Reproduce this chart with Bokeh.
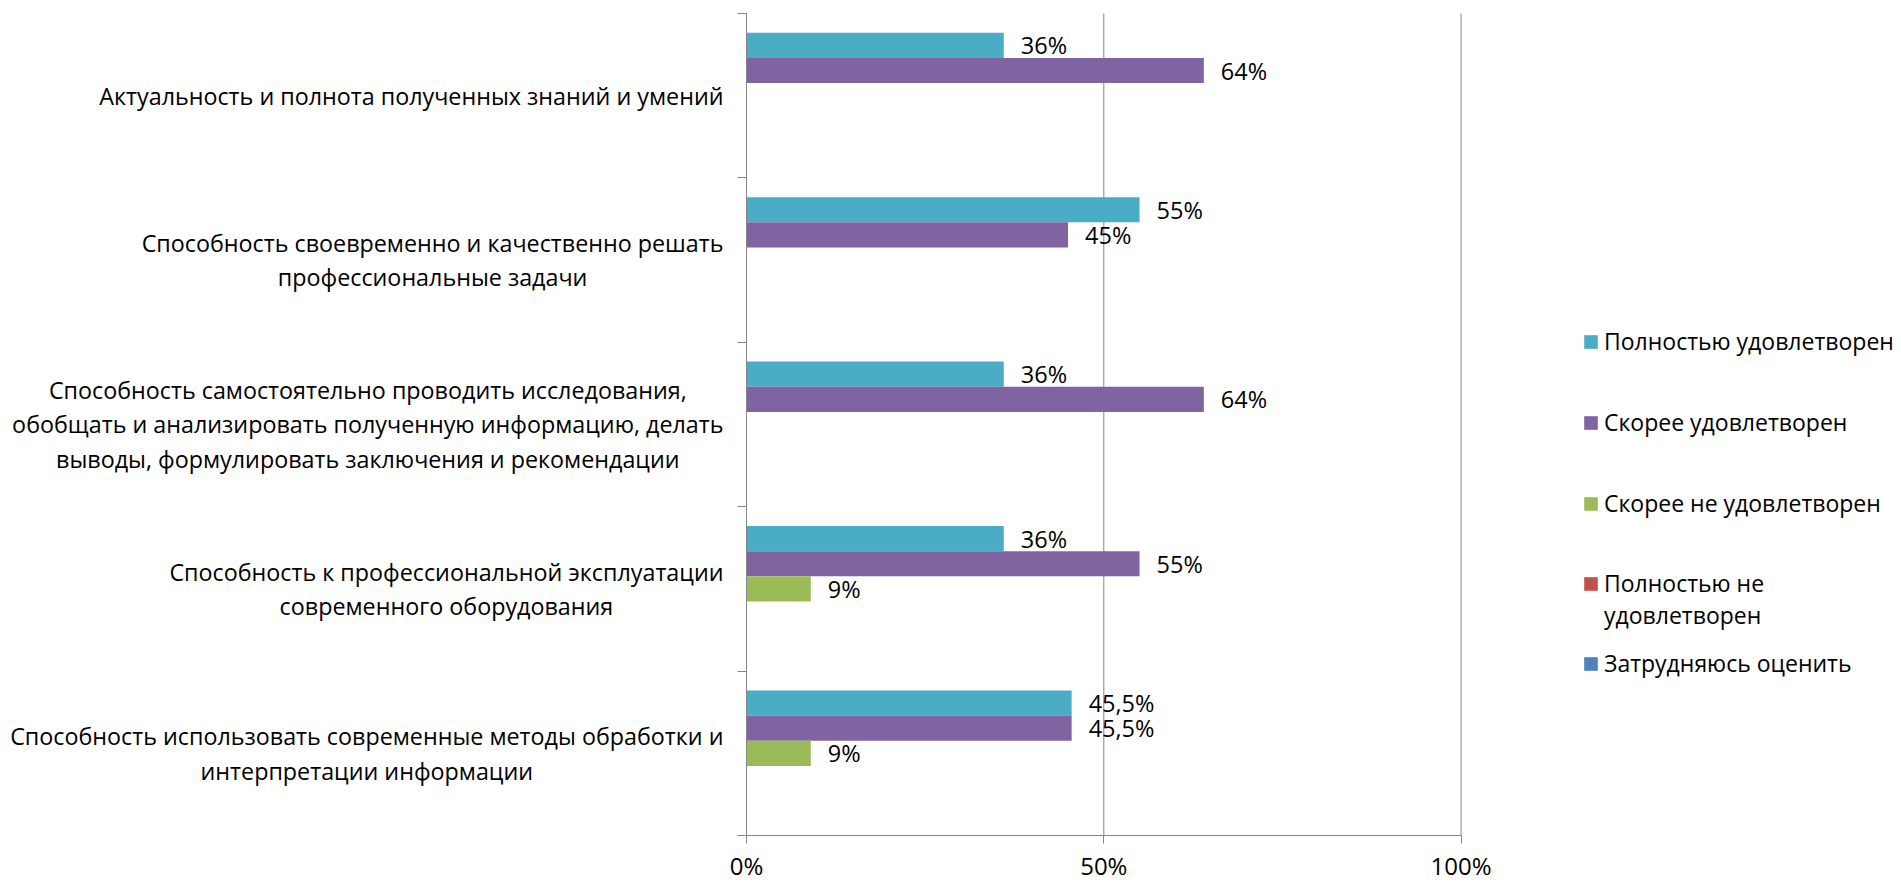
import numpy as np
from bokeh.plotting import figure
from bokeh.models import (Range1d, FixedTicker, LinearAxis, Legend, LegendItem,
                          ColumnDataSource, PrintfTickFormatter, CustomJSTickFormatter)
from bokeh.embed import file_html
from bokeh.resources import INLINE
from bokeh.core.properties import value

# ---------------- data ----------------
categories = [
    "Актуальность и полнота полученных знаний и умений",
    "Способность своевременно и качественно решать\nпрофессиональные задачи",
    "Способность самостоятельно проводить исследования,\nобобщать и анализировать полученную информацию, делать\nвыводы, формулировать заключения и рекомендации",
    "Способность к профессиональной эксплуатации\nсовременного оборудования",
    "Способность использовать современные методы обработки и\nинтерпретации информации",
]
series_names = [
    "Полностью удовлетворен",
    "Скорее удовлетворен",
    "Скорее не удовлетворен",
    "Полностью не\nудовлетворен",
    "Затрудняюсь оценить",
]
fully_satisfied = [36, 55, 36, 36, 45.5]
rather_satisfied = [64, 45, 64, 55, 45.5]
rather_not_satisfied = [None, None, None, 9, 9]
fully_not_satisfied = [None, None, None, None, None]
hard_to_say = [None, None, None, None, None]
series_colors = ["#4BACC6", "#8064A2", "#9BBB59", "#C0504D", "#4F81BD"]
x_ticks = [0, 50, 100]

series_values = [fully_satisfied, rather_satisfied, rather_not_satisfied,
                 fully_not_satisfied, hard_to_say]

# ---------------- layout ----------------
W, H = 1901, 883
AXIS_X = 746               # canvas x of 0 %
PX_PER_PCT = 7.146         # px per percent
AXIS_Y = 835               # canvas y of axis bottom
CAT_PX = 164.4             # px per category band
BAR_H = 0.153              # bar thickness in category units
FONT = value("Open Sans")
TEXT_COLOR = "#000000"
AXIS_COLOR = "#868686"

n = len(categories)
x_start = -AXIS_X / PX_PER_PCT
x_end = (W - AXIS_X) / PX_PER_PCT
y_end = AXIS_Y / CAT_PX
y_start = -(H - AXIS_Y) / CAT_PX

p = figure(width=W, height=H, x_range=Range1d(x_start, x_end),
           y_range=Range1d(y_start, y_end), output_backend="svg",
           toolbar_location=None, x_axis_location=None, y_axis_location=None,
           min_border=0)
p.outline_line_color = None
p.grid.visible = False
p.background_fill_color = "white"
p.border_fill_color = "white"

centers = [n - i - 0.5 for i in range(n)]

# grid lines (vertical) at the non-zero x ticks
p.segment(x0=x_ticks[1:], y0=0, x1=x_ticks[1:], y1=n,
          line_color=AXIS_COLOR, line_width=1)

# bars
renderers = []
for j, (vals, color) in enumerate(zip(series_values, series_colors)):
    v = np.array([np.nan if a is None else a for a in vals], dtype=float)
    ys = np.array(centers) + (2 - j) * BAR_H
    src = ColumnDataSource(dict(y=ys, right=v))
    r = p.hbar(y="y", left=0, right="right", height=BAR_H, source=src,
               fill_color=color, line_color=None)
    renderers.append(r)
    mask = ~np.isnan(v)
    if mask.any():
        labels = [("%g" % a).replace(".", ",") + "%" for a in v[mask]]
        p.text(x=v[mask], y=ys[mask], text=labels, x_offset=17,
               text_align="left", text_baseline="middle",
               text_font=FONT, text_font_size="23.5px", text_color=TEXT_COLOR)

# category labels
p.text(x=0, y=centers, text=categories, x_offset=-23,
       anchor="center_right", text_align="center", text_baseline="middle",
       text_line_height=1.086, text_font=FONT, text_font_size="23.3px",
       text_color=TEXT_COLOR)

# axes
xaxis = LinearAxis(fixed_location=0, bounds=(0, 100),
                   ticker=FixedTicker(ticks=x_ticks),
                   formatter=PrintfTickFormatter(format="%d%%"))
xaxis.axis_line_color = AXIS_COLOR
xaxis.major_tick_line_color = AXIS_COLOR
xaxis.major_tick_out = 8
xaxis.major_tick_in = 0
xaxis.minor_tick_line_color = None
xaxis.major_label_standoff = 5
xaxis.major_label_text_font = "Open Sans"
xaxis.major_label_text_font_size = "24px"
xaxis.major_label_text_color = TEXT_COLOR
p.add_layout(xaxis, "below")

yaxis = LinearAxis(fixed_location=0, bounds=(0, n),
                   ticker=FixedTicker(ticks=list(range(n + 1))),
                   formatter=CustomJSTickFormatter(code="return ''"))
yaxis.axis_line_color = AXIS_COLOR
yaxis.major_tick_line_color = AXIS_COLOR
yaxis.major_tick_out = 9
yaxis.major_tick_in = 0
yaxis.minor_tick_line_color = None
p.add_layout(yaxis, "left")

# invisible renderer used for continuation lines of wrapped legend labels
blank = p.hbar(y=[], left=0, right=[], height=BAR_H,
               fill_alpha=0, line_alpha=0)

# legend: one Legend per entry line, placed like the original
legend_x = 1582
legend_bottoms = [[526], [445], [364], [284, 252], [204]]  # px from canvas bottom
for r, name, bottoms in zip(renderers, series_names, legend_bottoms):
    for k, (line, yb) in enumerate(zip(name.split("\n"), bottoms)):
        lg = Legend(items=[LegendItem(label=line, renderers=[r if k == 0 else blank])],
                    location=(legend_x, yb), padding=0, margin=0, spacing=0,
                    glyph_width=17, glyph_height=17, label_standoff=5,
                    label_text_font="Open Sans", label_text_font_size="23px",
                    label_text_color=TEXT_COLOR, border_line_color=None,
                    background_fill_alpha=0)
        p.add_layout(lg, "center")

open("out.html", "w").write(file_html(p, INLINE))
